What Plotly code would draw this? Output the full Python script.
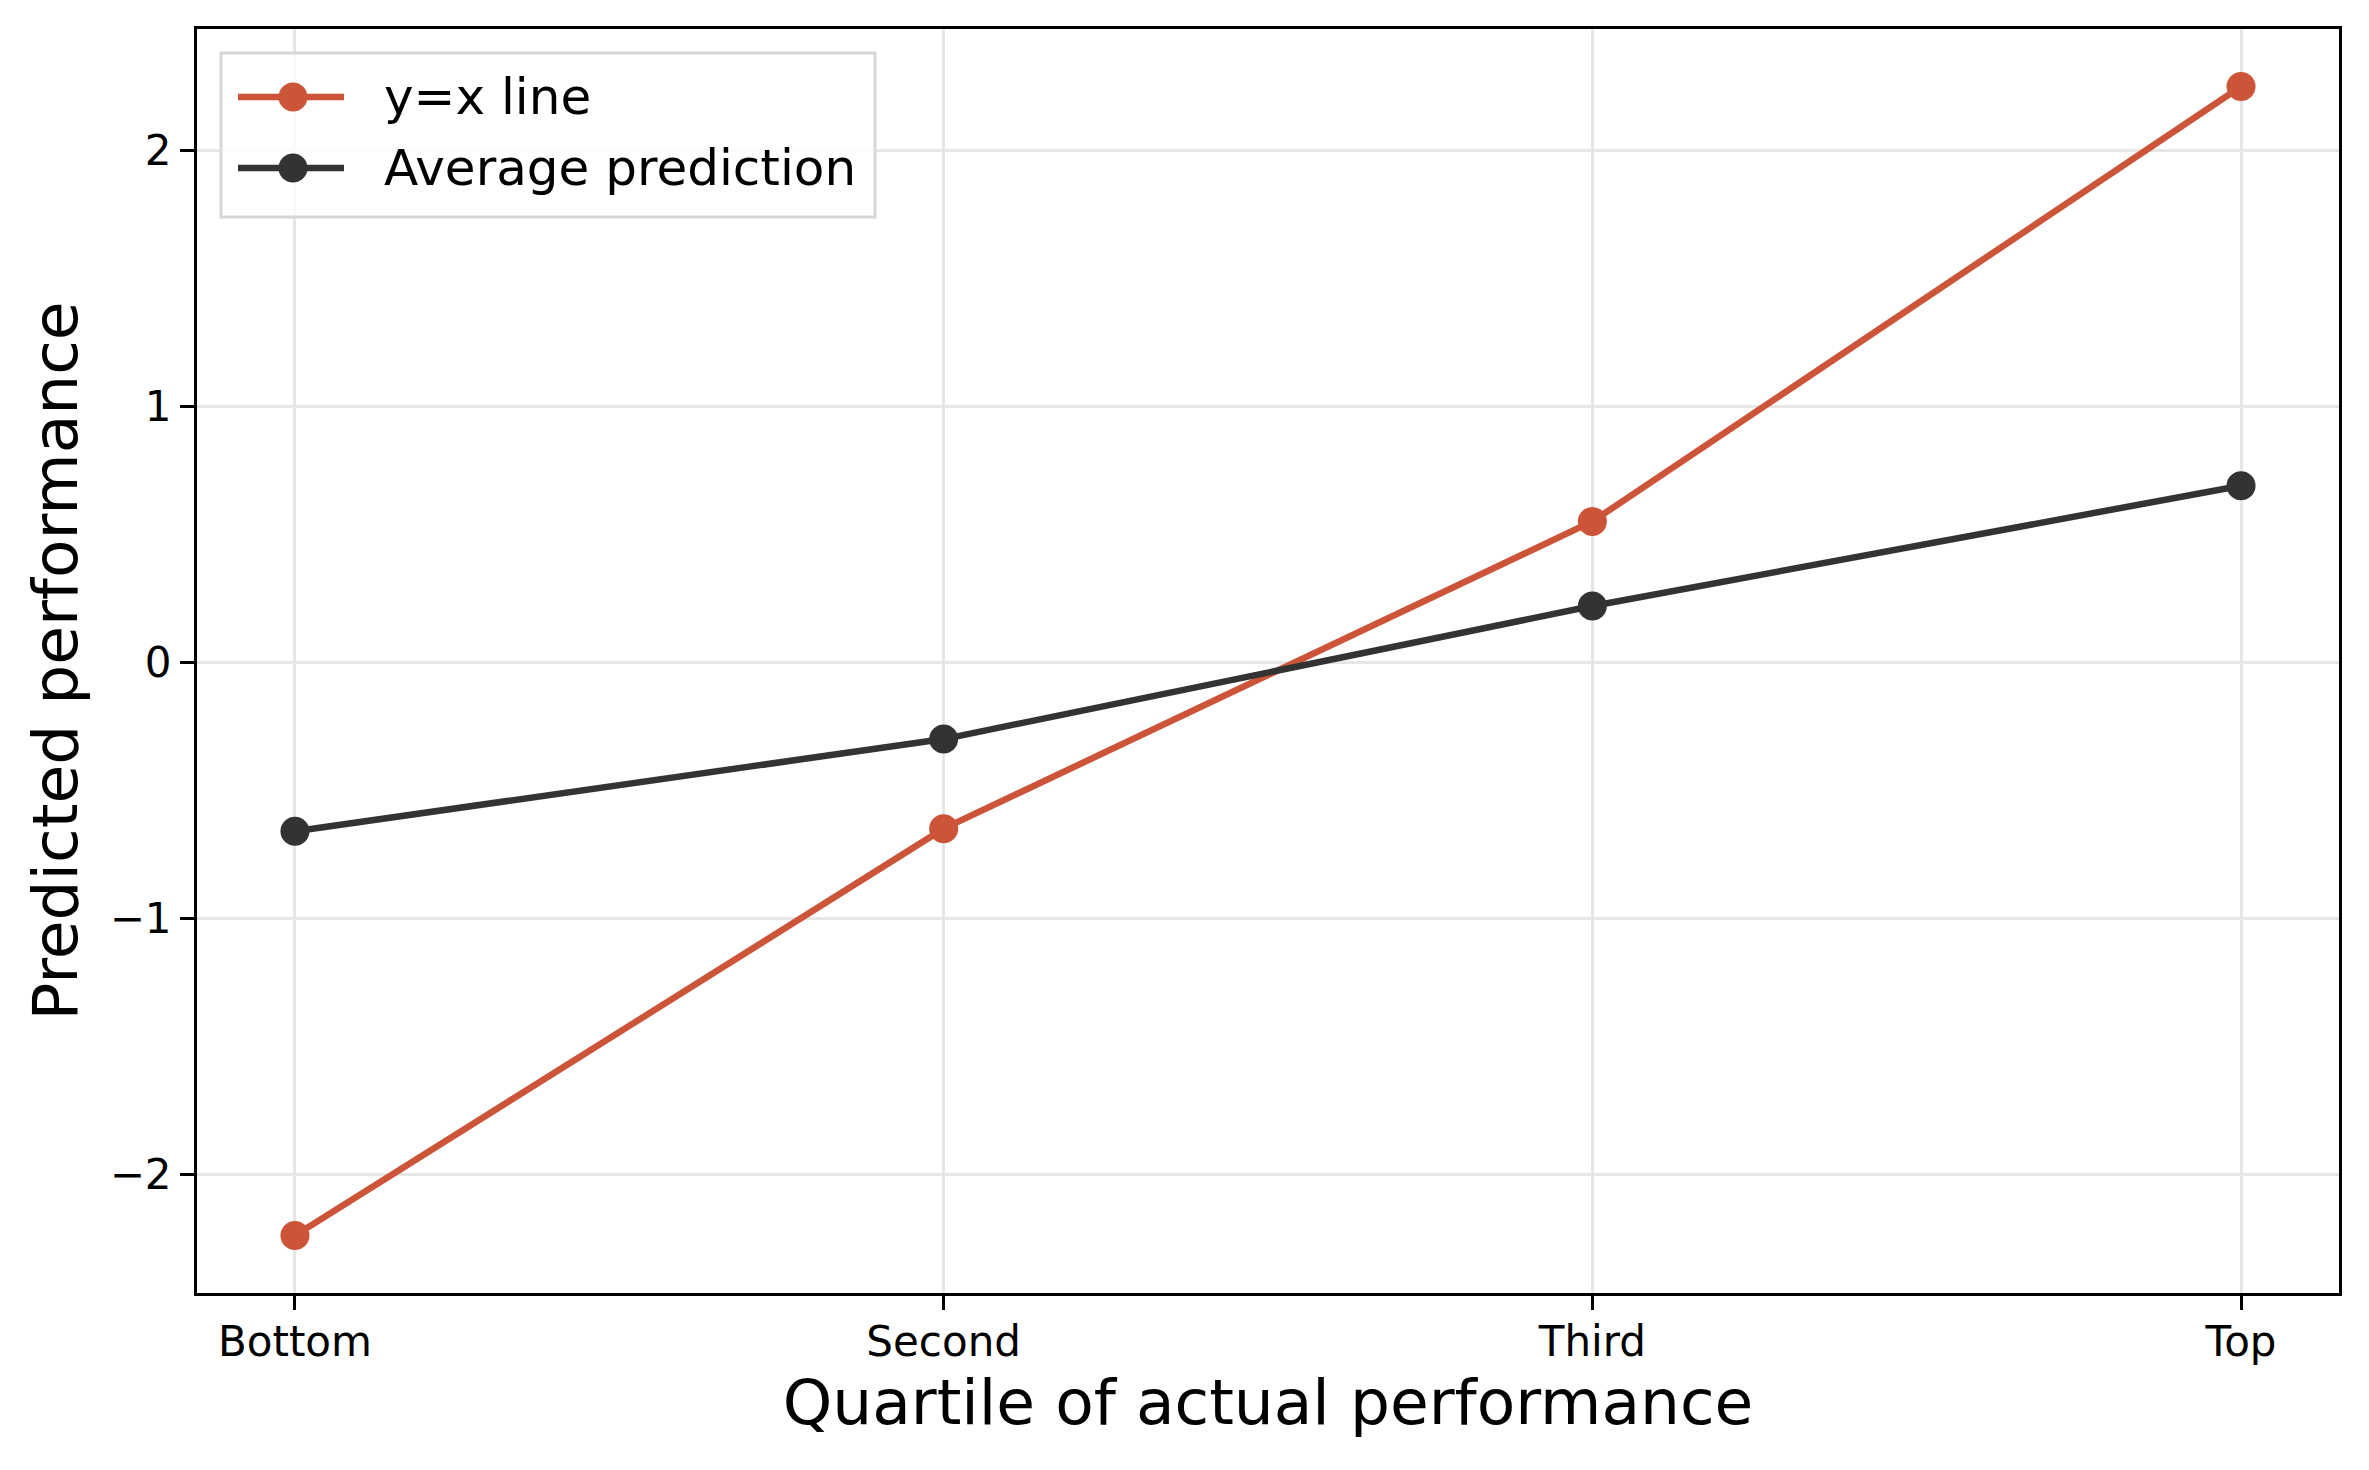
"""
Predicted vs actual performance by quartile.
"""

import plotly.graph_objects as go

# Data
QUARTILES = ["Bottom", "Second", "Third", "Top"]
Y_EQUALS_X = [-2.24, -0.65, 0.55, 2.25]
AVERAGE_PREDICTION = [-0.66, -0.30, 0.22, 0.69]
Y_TICKS = [-2, -1, 0, 1, 2]

SERIES = [
    ("y=x line", Y_EQUALS_X, "#cc5539"),
    ("Average prediction", AVERAGE_PREDICTION, "#333333"),
]

FONT = "DejaVu Sans"
W, H = 2369, 1470
# page body adds 8px offset, so margins are shifted to compensate
MARGIN = dict(l=189, r=38, t=21, b=185)
PLOT_W = W - MARGIN["l"] - MARGIN["r"]
PLOT_H = H - MARGIN["t"] - MARGIN["b"]
LINE_W = 6.5
MARKER_D = 29


def px_to_paper(px, py):
    """Figure pixel position -> paper coords of the plot area."""
    return (px - MARGIN["l"]) / PLOT_W, (H - MARGIN["b"] - py) / PLOT_H


def legend_items():
    """Matplotlib-style legend box drawn with shapes and annotations."""
    shapes, annotations = [], []
    x0, y0 = px_to_paper(213, 45)
    x1, y1 = px_to_paper(867, 209)
    shapes.append(dict(
        type="rect", xref="paper", yref="paper", x0=x0, y0=y1, x1=x1, y1=y0,
        line=dict(color="#d6d6d6", width=3), fillcolor="rgba(255,255,255,0.8)",
        layer="above",
    ))
    for i, (name, _, color) in enumerate(SERIES):
        row_y = 89 + i * 71
        lx0, ly = px_to_paper(230, row_y)
        lx1, _ = px_to_paper(336, row_y)
        mx, _ = px_to_paper(285, row_y)
        tx, _ = px_to_paper(374, row_y)
        shapes.append(dict(
            type="line", xref="paper", yref="paper", x0=lx0, x1=lx1, y0=ly, y1=ly,
            line=dict(color=color, width=LINE_W), layer="above",
        ))
        shapes.append(dict(
            type="circle", xref="paper", yref="paper",
            xsizemode="pixel", ysizemode="pixel", xanchor=mx, yanchor=ly,
            x0=-MARKER_D / 2, x1=MARKER_D / 2, y0=-MARKER_D / 2, y1=MARKER_D / 2,
            fillcolor=color, line=dict(width=0), layer="above",
        ))
        annotations.append(dict(
            xref="paper", yref="paper", x=tx, y=ly, xanchor="left", yanchor="middle",
            text=name, showarrow=False,
            font=dict(family=FONT, size=50, color="black"),
        ))
    return shapes, annotations


def plot_figure(save_path="out.html"):
    x = list(range(len(QUARTILES)))

    fig = go.Figure()
    for name, values, color in SERIES:
        fig.add_trace(
            go.Scatter(
                x=x,
                y=values,
                mode="lines+markers",
                name=name,
                line=dict(color=color, width=LINE_W),
                marker=dict(color=color, size=MARKER_D),
            )
        )

    axis_common = dict(
        showline=True,
        linecolor="black",
        linewidth=3,
        mirror=True,
        ticks="outside",
        ticklen=14,
        tickwidth=3,
        tickcolor="black",
        showgrid=True,
        gridcolor="#e6e6e6",
        gridwidth=3,
        zeroline=False,
        tickfont=dict(family=FONT, size=42, color="black"),
    )

    shapes, annotations = legend_items()

    fig.update_layout(
        width=W,
        height=H,
        margin=MARGIN,
        paper_bgcolor="white",
        plot_bgcolor="white",
        font=dict(family=FONT, color="black"),
        showlegend=False,
        shapes=shapes,
        annotations=annotations,
        xaxis=dict(
            axis_common,
            range=[-0.151, 3.151],
            tickmode="array",
            tickvals=x,
            ticktext=QUARTILES,
            ticklabelstandoff=-4,
            title=dict(
                text="Quartile of actual performance",
                font=dict(family=FONT, size=63, color="black"),
                standoff=14,
            ),
        ),
        yaxis=dict(
            axis_common,
            range=[-2.4645, 2.4745],
            tickmode="array",
            tickvals=Y_TICKS,
            title=dict(
                text="Predicted performance",
                font=dict(family=FONT, size=63, color="black"),
                standoff=12,
            ),
        ),
    )

    fig.write_html(save_path)
    return fig


if __name__ == "__main__":
    plot_figure("out.html")
